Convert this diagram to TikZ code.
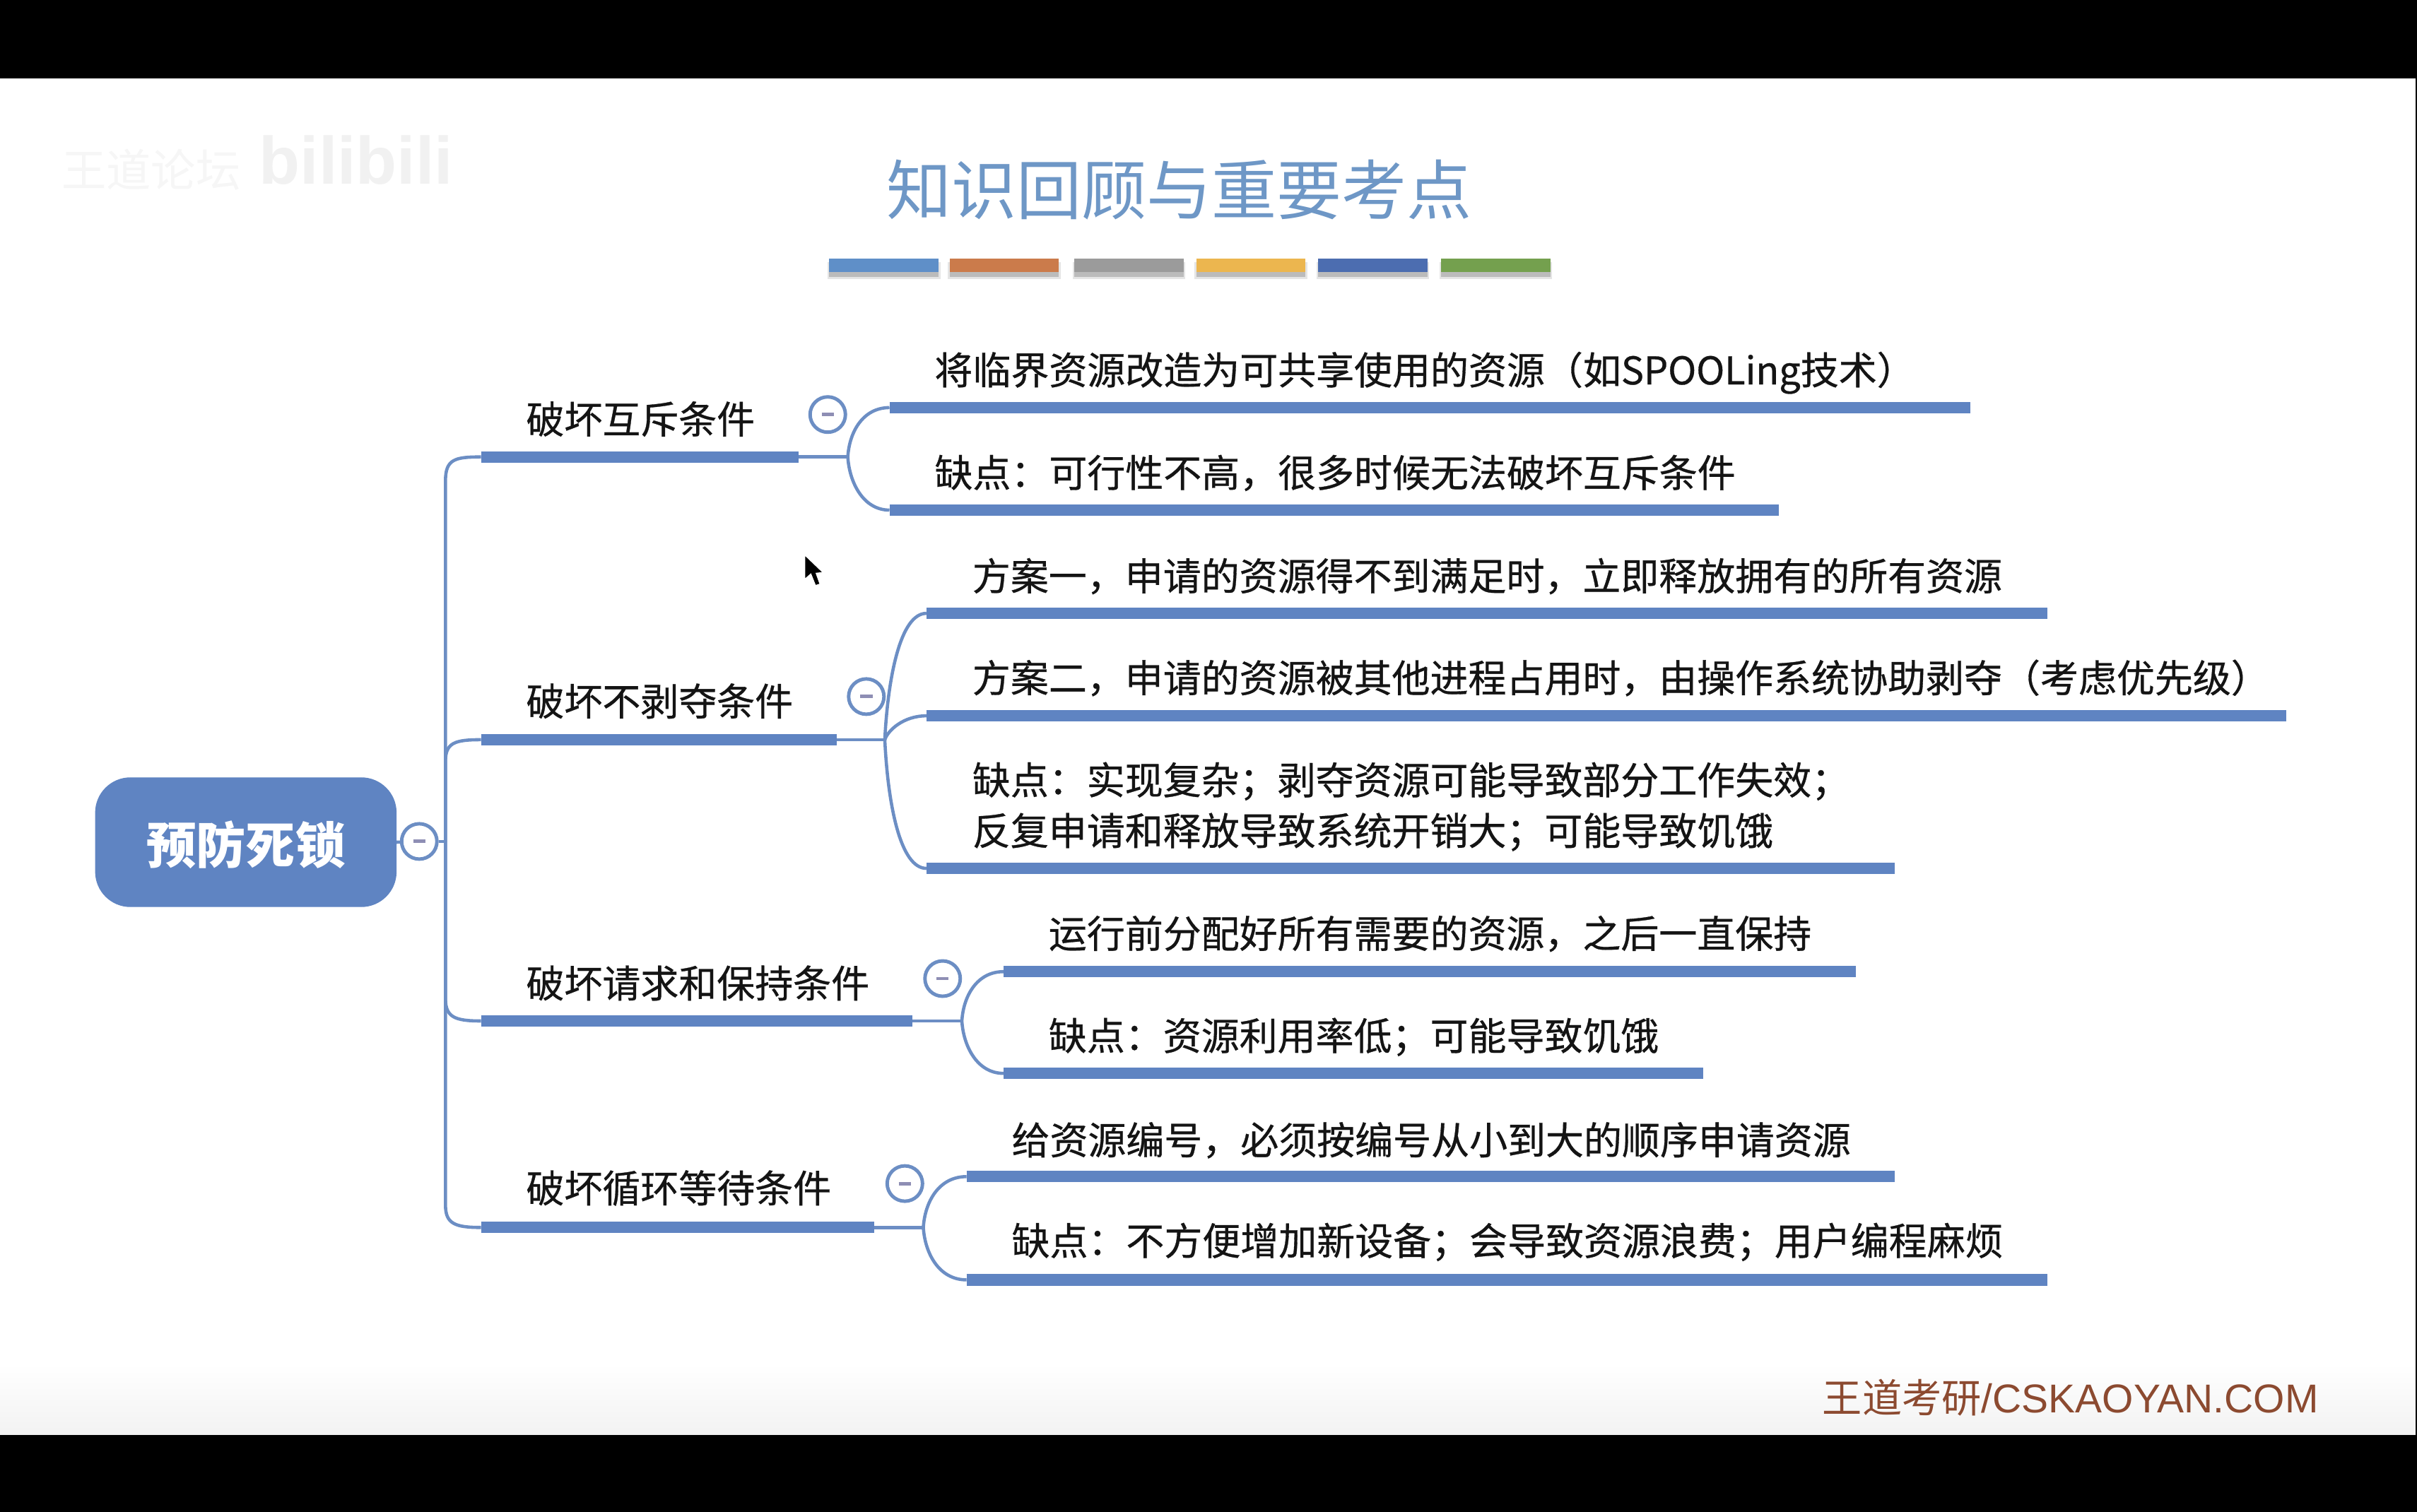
\documentclass[tikz,border=0pt]{standalone}
\usepackage{fontspec}
\setmainfont{Noto Sans CJK SC}
\newfontfamily\heavyfont{Noto Sans CJK SC}[FakeBold=0.6]
\newfontfamily\latinfont{Liberation Sans}
\usetikzlibrary{shadings}
\definecolor{mapblue}{HTML}{5F84C2}
\definecolor{linkblue}{HTML}{6C8EC4}
\definecolor{titleblue}{HTML}{6E97C6}
\definecolor{minusgrey}{HTML}{8E8EB4}
\definecolor{footerbrown}{HTML}{8C4A30}
\definecolor{markgrey}{HTML}{F1F1F1}
\definecolor{marklight}{HTML}{F6F6F6}
\definecolor{sa}{HTML}{5F8FC8}\definecolor{sb}{HTML}{CB7B4B}\definecolor{sc}{HTML}{9B9B9B}
\definecolor{sd}{HTML}{ECB64F}\definecolor{se}{HTML}{4C6DB0}\definecolor{sf}{HTML}{74A04E}
\tikzset{
  x=0.02181cm,y=-0.02181cm,
  toptext/.style={anchor=west,inner sep=0pt,yshift=-0.02cm,font=\heavyfont\fontsize{15.35}{15.35}\selectfont,text=black!92},
  leaftext/.style={anchor=west,inner sep=0pt,yshift=-0.02cm,font=\heavyfont\fontsize{15.35}{15.35}\selectfont,text=black!92},
  multitext/.style={anchor=west,inner sep=0pt,yshift=-0.02cm,align=left,font=\heavyfont\fontsize{15.35}{20.4}\selectfont,text=black!92},
  rootbox/.style={draw=mapblue,fill=mapblue,rounded corners=14pt,minimum width=4.25cm,minimum height=1.82cm,inner sep=0pt,text=white,font=\fontsize{20}{20}\selectfont\bfseries},
  bar/.style={draw=mapblue,line width=4.6pt,line cap=butt},
  link/.style={draw=linkblue,line width=1.3pt},
  collapse/.style={circle,draw=linkblue,line width=1.4pt,fill=white,minimum size=0.5cm,inner sep=0pt,
    path picture={\draw[minusgrey,line width=1.4pt] (path picture bounding box.center) ++(-4,0) -- ++(8,0);}},
}
\newcommand{\swatchbar}[3]{%
  \fill[black,opacity=.10] (#1-1,170) rectangle (#2+1,181);
  \fill[black,opacity=.18] (#1,170) rectangle (#2,179.5);
  \fill[#3] (#1,168) rectangle (#2,176.5);
}
\begin{document}
\begin{tikzpicture}
\useasboundingbox (0,0) rectangle (1568,981);
\fill[black] (0,0) rectangle (1568,981);
\fill[white] (0,51) rectangle (1567,931);
\shade[top color=white,bottom color=black!5] (0,885) rectangle (1567,931);

% watermark
\node[anchor=center,inner sep=0pt,text=marklight,font=\fontsize{18}{18}\selectfont] (wm1) at (98,110) {王道论坛};
\node[anchor=center,inner sep=0pt,text=markgrey,font=\fontsize{27}{27}\selectfont\bfseries\latinfont] (wm2) at (231,104) {bilibili};

% title and colour strip
\node[anchor=center,inner sep=0pt,text=titleblue,font=\fontsize{26.2}{26.2}\selectfont] (title) at (765,123) {知识回顾与重要考点};
\swatchbar{538}{609}{sa}
\swatchbar{616}{687}{sb}
\swatchbar{697}{768}{sc}
\swatchbar{776}{847}{sd}
\swatchbar{855}{926}{se}
\swatchbar{935}{1006}{sf}

% root
\node[rootbox] (root) at (159.5,546.5) {};
\node[anchor=center,inner sep=0pt,text=white,font=\fontsize{20}{20}\selectfont\bfseries] (rootlabel) at (159.5,548) {预防死锁};
\node[collapse] (c0) at (272,546) {};
\coordinate (trunk) at (289,546);
\draw[link] (root.east) -- (c0);
\draw[link] (c0) -- (trunk);

% branch anchors
\coordinate (b1s) at (312,296.5); \coordinate (b1e) at (518,296.5); \coordinate (j1) at (550,296.5);
\coordinate (b2s) at (312,480); \coordinate (b2e) at (543,480); \coordinate (j2) at (574,480);
\coordinate (b3s) at (312,662.5); \coordinate (b3e) at (592,662.5); \coordinate (j3) at (624,662.5);
\coordinate (b4s) at (312,796.5); \coordinate (b4e) at (567,796.5); \coordinate (j4) at (599,796.5);

% trunk connectors
\draw[link] (b1s) .. controls (295,296.5) and (289,298) .. (289,312) -- (trunk);
\draw[link] (b2s) .. controls (295,480) and (289,482) .. (289,494) -- (trunk);
\draw[link] (b3s) .. controls (295,662.5) and (289,660) .. (289,648) -- (trunk);
\draw[link] (b4s) .. controls (295,796.5) and (289,794) .. (289,782) -- (trunk);

% branch bars
\foreach \n in {1,2,3,4} {
  \draw[bar] (b\n s) -- (b\n e);
  \draw[link] (b\n e) -- (j\n);
}

% branch labels
\node[toptext] (t1) at (341,271) {破坏互斥条件};
\node[toptext] (t2) at (341,454) {破坏不剥夺条件};
\node[toptext] (t3) at (341,637) {破坏请求和保持条件};
\node[toptext] (t4) at (341,770) {破坏循环等待条件};

\node[collapse] (c1) at (537,269) {};
\node[collapse] (c2) at (562,452) {};
\node[collapse] (c3) at (611.5,635) {};
\node[collapse] (c4) at (587,768) {};

% leaves of branch 1
\coordinate (l1as) at (577,264.5); \coordinate (l1ae) at (1278,264.5);
\coordinate (l1bs) at (577,331); \coordinate (l1be) at (1154,331);
\node[leaftext] (l1a) at (606,241) {将临界资源改造为可共享使用的资源（如SPOOLing技术）};
\node[leaftext] (l1b) at (606,306) {缺点：可行性不高，很多时候无法破坏互斥条件};

% leaves of branch 2
\coordinate (l2as) at (601,398); \coordinate (l2ae) at (1328,398);
\coordinate (l2bs) at (601,464.5); \coordinate (l2be) at (1483,464.5);
\coordinate (l2cs) at (601,563.5); \coordinate (l2ce) at (1229,563.5);
\node[leaftext] (l2a) at (630.5,373) {方案一，申请的资源得不到满足时，立即释放拥有的所有资源};
\node[leaftext] (l2b) at (630.5,439) {方案二，申请的资源被其他进程占用时，由操作系统协助剥夺（考虑优先级）};
\node[multitext] (l2c) at (630.5,522.5) {缺点：实现复杂；剥夺资源可能导致部分工作失效；\\反复申请和释放导致系统开销大；可能导致饥饿};

% leaves of branch 3
\coordinate (l3as) at (651,630.5); \coordinate (l3ae) at (1204,630.5);
\coordinate (l3bs) at (651,696.5); \coordinate (l3be) at (1105,696.5);
\node[leaftext] (l3a) at (680,605) {运行前分配好所有需要的资源，之后一直保持};
\node[leaftext] (l3b) at (680,672) {缺点：资源利用率低；可能导致饥饿};

% leaves of branch 4
\coordinate (l4as) at (627,763.5); \coordinate (l4ae) at (1229,763.5);
\coordinate (l4bs) at (627,830.5); \coordinate (l4be) at (1328,830.5);
\node[leaftext] (l4a) at (656,739) {给资源编号，必须按编号从小到大的顺序申请资源};
\node[leaftext] (l4b) at (656,805) {缺点：不方便增加新设备；会导致资源浪费；用户编程麻烦};

% leaf bars
\foreach \m in {l1a,l1b,l2a,l2b,l2c,l3a,l3b,l4a,l4b} {
  \draw[bar] (\m s) -- (\m e);
}

% junction curves
\draw[link] (j1) .. controls (551,280) and (560,264.5) .. (l1as);
\draw[link] (j1) .. controls (551,313) and (560,331) .. (l1bs);
\draw[link] (j2) .. controls (576,440) and (584,398) .. (l2as);
\draw[link] (j2) .. controls (576,474) and (586,464.5) .. (l2bs);
\draw[link] (j2) .. controls (576,522) and (584,563.5) .. (l2cs);
\draw[link] (j3) .. controls (625,646) and (634,630.5) .. (l3as);
\draw[link] (j3) .. controls (625,679) and (634,696.5) .. (l3bs);
\draw[link] (j4) .. controls (600,780) and (609,763.5) .. (l4as);
\draw[link] (j4) .. controls (600,813) and (609,830.5) .. (l4bs);

% footer
\node[anchor=west,inner sep=0pt,text=footerbrown,font=\fontsize{16}{16}\selectfont] (foot) at (1182,907) {王道考研{\latinfont\fontsize{16.2}{16.2}\selectfont/CSKAOYAN.COM}};

% mouse pointer
\fill[black,draw=white,line width=.4pt] (522,360) -- (522,376) -- (526,372.5) -- (529,380) -- (532,379) -- (529.5,372) -- (534,371.5) -- cycle;
\end{tikzpicture}
\end{document}
